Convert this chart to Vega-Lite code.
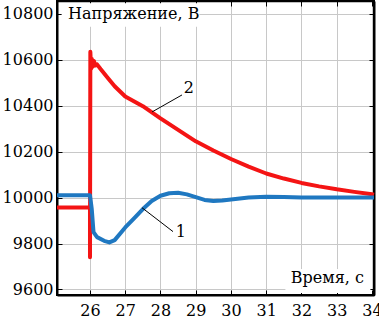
{
  "$schema": "https://vega.github.io/schema/vega-lite/v6.json",
  "width": 317,
  "height": 294,
  "autosize": {"type": "none"},
  "padding": {"left": 57, "top": 1, "right": 5, "bottom": 30},
  "background": "white",
  "config": {
    "view": {"stroke": "#000", "strokeWidth": 2},
    "font": "DejaVu Serif",
    "text": {"font": "DejaVu Serif"},
    "axis": {
      "labelFont": "DejaVu Serif",
      "labelFontSize": 16,
      "labelColor": "#000",
      "gridColor": "#c8c8c8",
      "gridWidth": 1,
      "domainColor": "#000",
      "domainWidth": 2,
      "tickColor": "#000",
      "tickWidth": 1,
      "title": null
    }
  },
  "datasets": {
    "series": [
      {"t": 25.064, "v": 9957, "s": "2"},
      {"t": 26.0, "v": 9957, "s": "2"},
      {"t": 26.0, "v": 9740, "s": "2"},
      {"t": 26.01, "v": 10635, "s": "2"},
      {"t": 26.03, "v": 10560, "s": "2"},
      {"t": 26.05, "v": 10605, "s": "2"},
      {"t": 26.08, "v": 10570, "s": "2"},
      {"t": 26.11, "v": 10595, "s": "2"},
      {"t": 26.15, "v": 10575, "s": "2"},
      {"t": 26.2, "v": 10580, "s": "2"},
      {"t": 26.3, "v": 10560, "s": "2"},
      {"t": 26.5, "v": 10522, "s": "2"},
      {"t": 26.7, "v": 10485, "s": "2"},
      {"t": 27.0, "v": 10440, "s": "2"},
      {"t": 27.5, "v": 10398, "s": "2"},
      {"t": 28.0, "v": 10345, "s": "2"},
      {"t": 28.5, "v": 10295, "s": "2"},
      {"t": 29.0, "v": 10245, "s": "2"},
      {"t": 29.5, "v": 10205, "s": "2"},
      {"t": 30.0, "v": 10168, "s": "2"},
      {"t": 30.5, "v": 10135, "s": "2"},
      {"t": 31.0, "v": 10105, "s": "2"},
      {"t": 31.5, "v": 10083, "s": "2"},
      {"t": 32.0, "v": 10064, "s": "2"},
      {"t": 32.5, "v": 10049, "s": "2"},
      {"t": 33.0, "v": 10036, "s": "2"},
      {"t": 33.5, "v": 10025, "s": "2"},
      {"t": 34.0, "v": 10015, "s": "2"},
      {"t": 34.057, "v": 10013, "s": "2"},
      {"t": 25.064, "v": 10010, "s": "1"},
      {"t": 26.0, "v": 10010, "s": "1"},
      {"t": 26.05, "v": 9950, "s": "1"},
      {"t": 26.1, "v": 9850, "s": "1"},
      {"t": 26.2, "v": 9828, "s": "1"},
      {"t": 26.4, "v": 9812, "s": "1"},
      {"t": 26.55, "v": 9805, "s": "1"},
      {"t": 26.7, "v": 9815, "s": "1"},
      {"t": 27.0, "v": 9870, "s": "1"},
      {"t": 27.25, "v": 9910, "s": "1"},
      {"t": 27.5, "v": 9950, "s": "1"},
      {"t": 27.75, "v": 9985, "s": "1"},
      {"t": 28.0, "v": 10008, "s": "1"},
      {"t": 28.25, "v": 10019, "s": "1"},
      {"t": 28.5, "v": 10021, "s": "1"},
      {"t": 28.75, "v": 10014, "s": "1"},
      {"t": 29.0, "v": 10002, "s": "1"},
      {"t": 29.25, "v": 9990, "s": "1"},
      {"t": 29.5, "v": 9985, "s": "1"},
      {"t": 29.75, "v": 9987, "s": "1"},
      {"t": 30.0, "v": 9992, "s": "1"},
      {"t": 30.5, "v": 10000, "s": "1"},
      {"t": 31.0, "v": 10004, "s": "1"},
      {"t": 31.5, "v": 10003, "s": "1"},
      {"t": 32.0, "v": 10000, "s": "1"},
      {"t": 33.0, "v": 10000, "s": "1"},
      {"t": 34.057, "v": 10000, "s": "1"}
    ],
    "leaders": [
      {"x1": 27.475, "y1": 9956, "x2": 28.355, "y2": 9852},
      {"x1": 27.76, "y1": 10373, "x2": 28.61, "y2": 10447}
    ],
    "boxes": [
      {"x1": 25.2, "x2": 29.1, "y1": 10845, "y2": 10745},
      {"x1": 31.55, "x2": 33.95, "y1": 9688, "y2": 9585}
    ],
    "labelsL": [
      {"x": 25.376, "y": 10798, "txt": "Напряжение, В"},
      {"x": 28.43, "y": 9850, "txt": "1"},
      {"x": 28.66, "y": 10476, "txt": "2"}
    ],
    "labelsR": [
      {"x": 33.77, "y": 9650, "txt": "Время, с"}
    ]
  },
  "resolve": {"axis": {"x": "independent", "y": "independent"}},
  "layer": [
    {
      "data": {"name": "boxes"},
      "mark": {"type": "rect", "fill": "white", "stroke": null},
      "encoding": {
        "x": {"field": "x1", "type": "quantitative", "scale": {"domain": [25.064, 34.057], "nice": false, "zero": false},
          "axis": {"orient": "bottom", "values": [26, 27, 28, 29, 30, 31, 32, 33, 34], "grid": true, "tickSize": -5, "labelPadding": 12, "format": "d"}},
        "x2": {"field": "x2"},
        "y": {"field": "y1", "type": "quantitative", "scale": {"domain": [9576, 10856], "nice": false, "zero": false},
          "axis": {"orient": "left", "values": [9600, 9800, 10000, 10200, 10400, 10600, 10800], "grid": true, "tickSize": -5, "labelPadding": 9, "format": "d"}},
        "y2": {"field": "y2"}
      }
    },
    {
      "data": {"name": "boxes"},
      "mark": {"type": "rect", "fill": "white", "stroke": null},
      "encoding": {
        "x": {"field": "x1", "type": "quantitative", "axis": {"orient": "top", "values": [26, 27, 28, 29, 30, 31, 32, 33, 34], "labels": false, "grid": false, "tickSize": -5, "domainWidth": 1.5}},
        "x2": {"field": "x2"},
        "y": {"field": "y1", "type": "quantitative", "axis": {"orient": "right", "values": [9600, 9800, 10000, 10200, 10400, 10600, 10800], "labels": false, "grid": false, "tickSize": -5}},
        "y2": {"field": "y2"}
      }
    },
    {
      "data": {"name": "series"},
      "mark": {"type": "line", "strokeWidth": 4, "strokeJoin": "round"},
      "encoding": {
        "x": {"field": "t", "type": "quantitative", "axis": null},
        "y": {"field": "v", "type": "quantitative", "axis": null},
        "detail": {"field": "s"},
        "order": {"field": "s", "sort": "ascending"},
        "color": {"field": "s", "type": "nominal", "scale": {"domain": ["1", "2"], "range": ["#1f78c1", "#f41414"]}, "legend": null}
      }
    },
    {
      "data": {"name": "leaders"},
      "mark": {"type": "rule", "color": "#000", "strokeWidth": 1},
      "encoding": {
        "x": {"field": "x1", "type": "quantitative", "axis": null},
        "y": {"field": "y1", "type": "quantitative", "axis": null},
        "x2": {"field": "x2"},
        "y2": {"field": "y2"}
      }
    },
    {
      "data": {"name": "labelsL"},
      "mark": {"type": "text", "font": "DejaVu Serif", "fontSize": 16, "color": "#000", "baseline": "middle", "align": "left"},
      "encoding": {
        "x": {"field": "x", "type": "quantitative", "axis": null},
        "y": {"field": "y", "type": "quantitative", "axis": null},
        "text": {"field": "txt"}
      }
    },
    {
      "data": {"name": "labelsR"},
      "mark": {"type": "text", "font": "DejaVu Serif", "fontSize": 16, "color": "#000", "baseline": "middle", "align": "right"},
      "encoding": {
        "x": {"field": "x", "type": "quantitative", "axis": null},
        "y": {"field": "y", "type": "quantitative", "axis": null},
        "text": {"field": "txt"}
      }
    }
  ]
}
